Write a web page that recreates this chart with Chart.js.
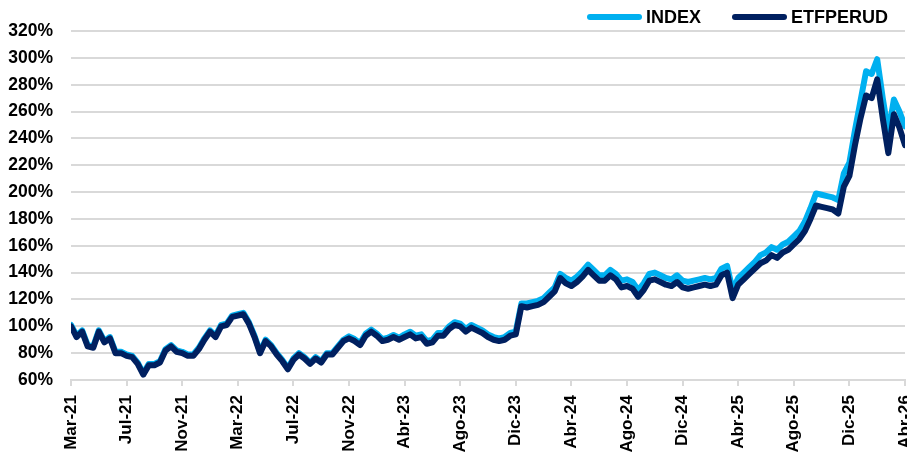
<!DOCTYPE html>
<html>
<head>
<meta charset="utf-8">
<script src="https://cdn.jsdelivr.net/npm/chart.js@4.4.1/dist/chart.umd.min.js"></script>
<style>
  html, body { margin: 0; padding: 0; background: #fff; overflow: hidden; }
  #wrap { position: relative; width: 907px; height: 458px; }
  .legend-item { position: absolute; top: 7px; height: 20px; display: flex; align-items: center;
    font: bold 18px "Liberation Sans", Arial, sans-serif; color: #000; white-space: nowrap; }
  .swatch { width: 55px; height: 6px; border-radius: 3px; margin-right: 4px; }
</style>
</head>
<body>
<div id="wrap">
  <canvas id="chart"></canvas>
  <div class="legend-item" style="left:587px"><span class="swatch" style="background:#00B0F0"></span>INDEX</div>
  <div class="legend-item" style="left:732px"><span class="swatch" style="background:#002060"></span>ETFPERUD</div>
</div>
<script>
// --- Data ---
const tickLabels = ['Mar-21', 'Jul-21', 'Nov-21', 'Mar-22', 'Jul-22', 'Nov-22', 'Abr-23', 'Ago-23',
    'Dic-23', 'Abr-24', 'Ago-24', 'Dic-24', 'Abr-25', 'Ago-25', 'Dic-25', 'Abr-26'];
const pointsPerLabel = 10;

// ETFPERUD, % of start value
const etfValues = [
    100, 92, 96, 85, 84, 96, 88, 91, 80, 80,
    78, 77, 72, 64, 71, 71, 73, 82, 85, 81,
    80, 78, 78, 83, 90, 96, 92, 100, 101, 107,
    108, 109, 102, 92, 80, 89, 85, 79, 74, 68,
    75, 79, 76, 72, 76, 73, 79, 79, 84, 89,
    91, 89, 86, 93, 96, 93, 89, 90, 92, 90,
    92, 94, 91, 92, 87, 88, 93, 93, 98, 101,
    100, 96, 99, 97, 95, 92, 90, 89, 90, 93,
    94, 115, 114, 115, 116, 118, 122, 126, 136, 132,
    130, 133, 137, 142, 138, 134, 134, 138, 135, 129,
    130, 128, 122, 127, 134, 135, 133, 131, 130, 133,
    129, 128, 129, 130, 131, 130, 131, 138, 140, 121,
    131, 135, 139, 143, 147, 149, 153, 151, 155, 157,
    161, 165, 171, 180, 190, 189, 188, 187, 184, 204,
    212, 235, 255, 272, 270, 284, 255, 229, 258, 248,
    235
];

// INDEX, % of start value
const indexValues = [
    101, 93, 97, 86, 85, 97, 89, 92, 81, 81,
    79, 78, 73, 65, 72, 72, 74, 83, 86, 82,
    81, 79, 79, 84, 91, 97, 93, 101, 102, 108,
    109, 110, 103, 93, 81, 90, 86, 80, 75, 69,
    76, 80, 77, 73, 77, 74, 80, 80, 85, 90,
    92.5, 90.5, 87.5, 94.5, 97.5, 94.5, 90.5, 91.5, 93.5, 91.5,
    94, 96, 93, 94, 89, 90, 95, 95, 100, 103,
    102, 98, 101, 99, 97, 94, 92, 91, 92, 95,
    96, 117, 117, 118, 119, 121, 125, 129, 139, 136,
    134, 137, 141, 146, 142, 138, 138, 142, 139, 134,
    135, 133, 127, 132, 139, 140, 138, 136, 135, 138,
    134, 133, 134, 135, 136, 135, 136, 143, 145, 127,
    136, 140, 144, 148, 153, 155, 159, 157, 161, 163,
    167, 171, 178, 188, 199, 198, 197, 196, 194, 214,
    222, 246, 268, 290, 288, 299, 270, 244, 269, 260,
    249
];

const FONT = '"Liberation Sans", Arial, sans-serif';
const GRID = '#d9d9d9';

function toPoints(values) {
    return values.map((v, i) => ({ x: i, y: v }));
}

new Chart(document.getElementById('chart'), {
    type: 'line',
    data: {
        datasets: [{
            label: 'ETFPERUD',
            data: toPoints(etfValues),
            borderColor: '#002060',
            borderWidth: 6,
            pointRadius: 0,
            borderJoinStyle: 'round',
            borderCapStyle: 'round',
            tension: 0
        }, {
            label: 'INDEX',
            data: toPoints(indexValues),
            borderColor: '#00B0F0',
            borderWidth: 6,
            pointRadius: 0,
            borderJoinStyle: 'round',
            borderCapStyle: 'round',
            tension: 0
        }]
    },
    options: {
        responsive: true,
        maintainAspectRatio: false,
        animation: false,
        layout: { padding: { top: 31, left: 7, right: 2, bottom: 0 } },
        plugins: {
            legend: { display: false },
            tooltip: { enabled: false }
        },
        scales: {
            x: {
                type: 'linear',
                min: 0,
                max: (tickLabels.length - 1) * pointsPerLabel,
                grid: { drawOnChartArea: false, drawTicks: true, tickLength: 6, color: GRID, lineWidth: 2 },
                border: { display: true, color: GRID, width: 2 },
                ticks: {
                    stepSize: pointsPerLabel,
                    autoSkip: false,
                    maxRotation: 90,
                    minRotation: 90,
                    padding: 9,
                    color: '#000',
                    font: { family: FONT, size: 17, weight: 'bold' },
                    callback: (v) => tickLabels[Math.round(v / pointsPerLabel)]
                },
                // let the rotated end labels run to the edges, as in the original
                afterFit: (scale) => { scale.paddingLeft = 0; scale.paddingRight = 0; scale.height = 78; }
            },
            y: {
                min: 60,
                max: 320,
                grid: { color: GRID, lineWidth: 2, drawTicks: false },
                border: { display: false },
                ticks: {
                    stepSize: 20,
                    padding: 18,
                    color: '#000',
                    font: { family: FONT, size: 17.5, weight: 'bold' },
                    callback: (v) => v + '%'
                },
                afterFit: (scale) => { scale.width = 64; }
            }
        }
    }
});
</script>
</body>
</html>
